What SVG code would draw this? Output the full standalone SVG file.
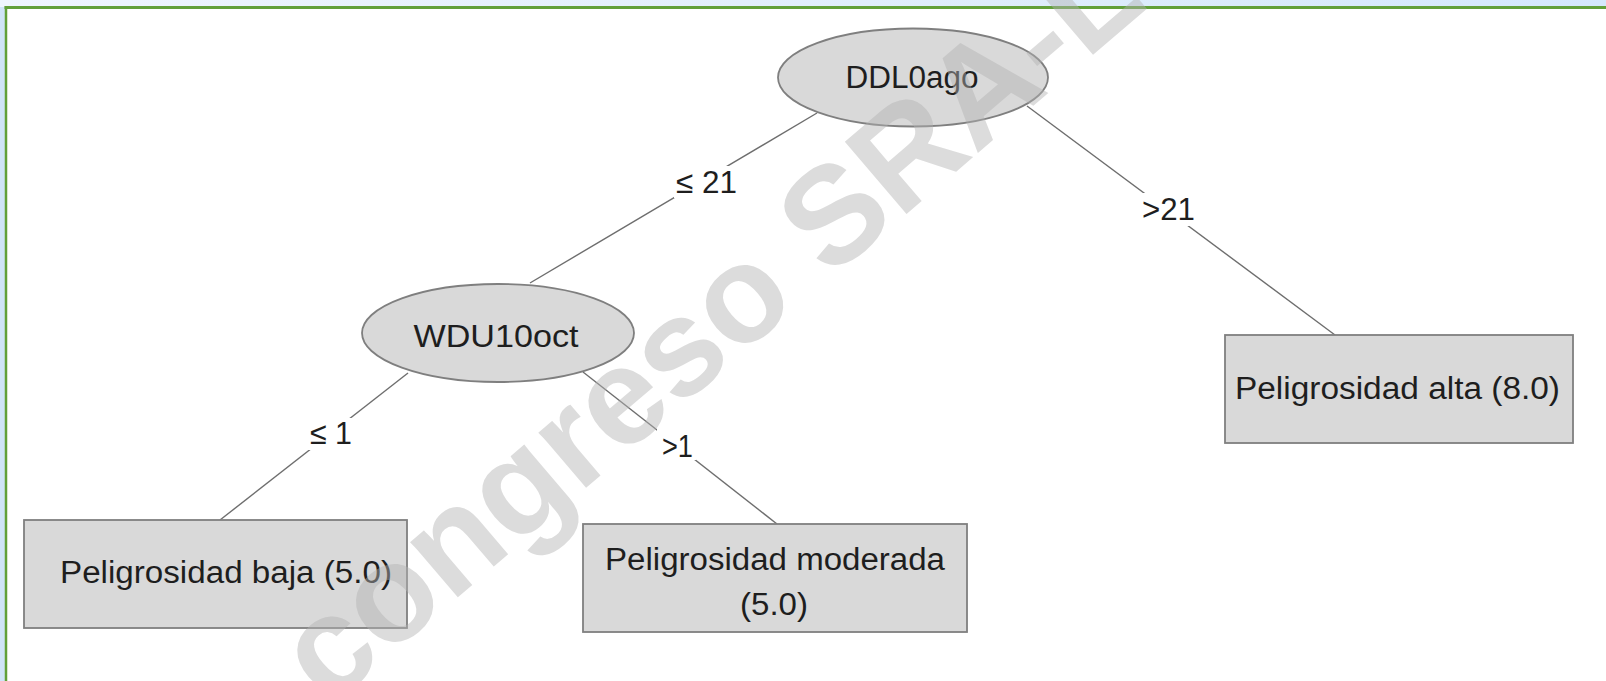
<svg xmlns="http://www.w3.org/2000/svg" width="1606" height="681" viewBox="0 0 1606 681">
  <defs>
    <linearGradient id="topStrip" x1="0" y1="0" x2="1" y2="0">
      <stop offset="0" stop-color="#eef5fd"/>
      <stop offset="1" stop-color="#d4e8fb"/>
    </linearGradient>
    <style>
      .node { fill: #d9d9d9; stroke: #7f7f7f; stroke-width: 1.8; }
      .edge { stroke: #6e6e6e; stroke-width: 1.4; fill: none; }
      .lbl { font-family: "Liberation Sans", Arial, sans-serif; font-size: 31px; fill: #1e1e1e; }
      .bg { fill: #ffffff; }
      .wm { font-family: "Liberation Sans", Arial, sans-serif; font-weight: bold; font-size: 138px; fill: #b2b2b2; opacity: 0.45; }
    </style>
  </defs>

  <!-- frame -->
  <rect x="0" y="0" width="1606" height="681" fill="#d0e4f8"/>
  <rect x="0" y="0" width="1606" height="7" fill="url(#topStrip)"/>
  <rect x="6" y="7" width="1600" height="674" fill="#ffffff"/>
  <line x1="4.5" y1="7.5" x2="1606" y2="7.5" stroke="#62a03a" stroke-width="3"/>
  <line x1="6" y1="6" x2="6" y2="681" stroke="#62a03a" stroke-width="2.5"/>

  <!-- connectors -->
  <g id="connectors">
    <line class="edge" x1="817" y1="113" x2="530" y2="283"/>
    <line class="edge" x1="1027" y1="106" x2="1335" y2="335"/>
    <line class="edge" x1="408" y1="373" x2="220" y2="520"/>
    <line class="edge" x1="583" y1="372" x2="777" y2="524"/>
    <rect class="bg" x="674" y="166" width="66" height="32"/>
    <text class="lbl" x="676" y="193" textLength="61" lengthAdjust="spacingAndGlyphs">≤ 21</text>
    <rect class="bg" x="1140" y="193" width="57" height="33"/>
    <text class="lbl" x="1142" y="220" textLength="53" lengthAdjust="spacingAndGlyphs">&gt;21</text>
    <rect class="bg" x="308" y="418" width="47" height="32"/>
    <text class="lbl" x="310" y="444" textLength="42" lengthAdjust="spacingAndGlyphs">≤ 1</text>
    <rect class="bg" x="657" y="428" width="39" height="32"/>
    <text class="lbl" x="662" y="457" textLength="31" lengthAdjust="spacingAndGlyphs">&gt;1</text>
  </g>

  <!-- nodes -->
  <g id="n-ddl0ago">
    <ellipse class="node" cx="913" cy="77.5" rx="135" ry="49"/>
    <text class="lbl" x="912" y="88" text-anchor="middle" textLength="133" lengthAdjust="spacingAndGlyphs">DDL0ago</text>
  </g>
  <g id="n-wdu10oct">
    <ellipse class="node" cx="498" cy="333" rx="136" ry="49"/>
    <text class="lbl" x="496" y="347" text-anchor="middle" textLength="165" lengthAdjust="spacingAndGlyphs">WDU10oct</text>
  </g>
  <g id="n-baja">
    <rect class="node" x="24" y="520" width="383" height="108"/>
    <text class="lbl" x="60" y="583" textLength="332" lengthAdjust="spacingAndGlyphs">Peligrosidad baja (5.0)</text>
  </g>
  <g id="n-moderada">
    <rect class="node" x="583" y="524" width="384" height="108"/>
    <text class="lbl" x="605" y="570" textLength="340" lengthAdjust="spacingAndGlyphs">Peligrosidad moderada</text>
    <text class="lbl" x="774" y="615" text-anchor="middle" textLength="68" lengthAdjust="spacingAndGlyphs">(5.0)</text>
  </g>
  <g id="n-alta">
    <rect class="node" x="1225" y="335" width="348" height="108"/>
    <text class="lbl" x="1235" y="399" textLength="325" lengthAdjust="spacingAndGlyphs">Peligrosidad alta (8.0)</text>
  </g>

  <!-- watermark overlay -->
  <text class="wm" transform="translate(328,708) rotate(-40.5)">congreso SRA-L</text>
</svg>
